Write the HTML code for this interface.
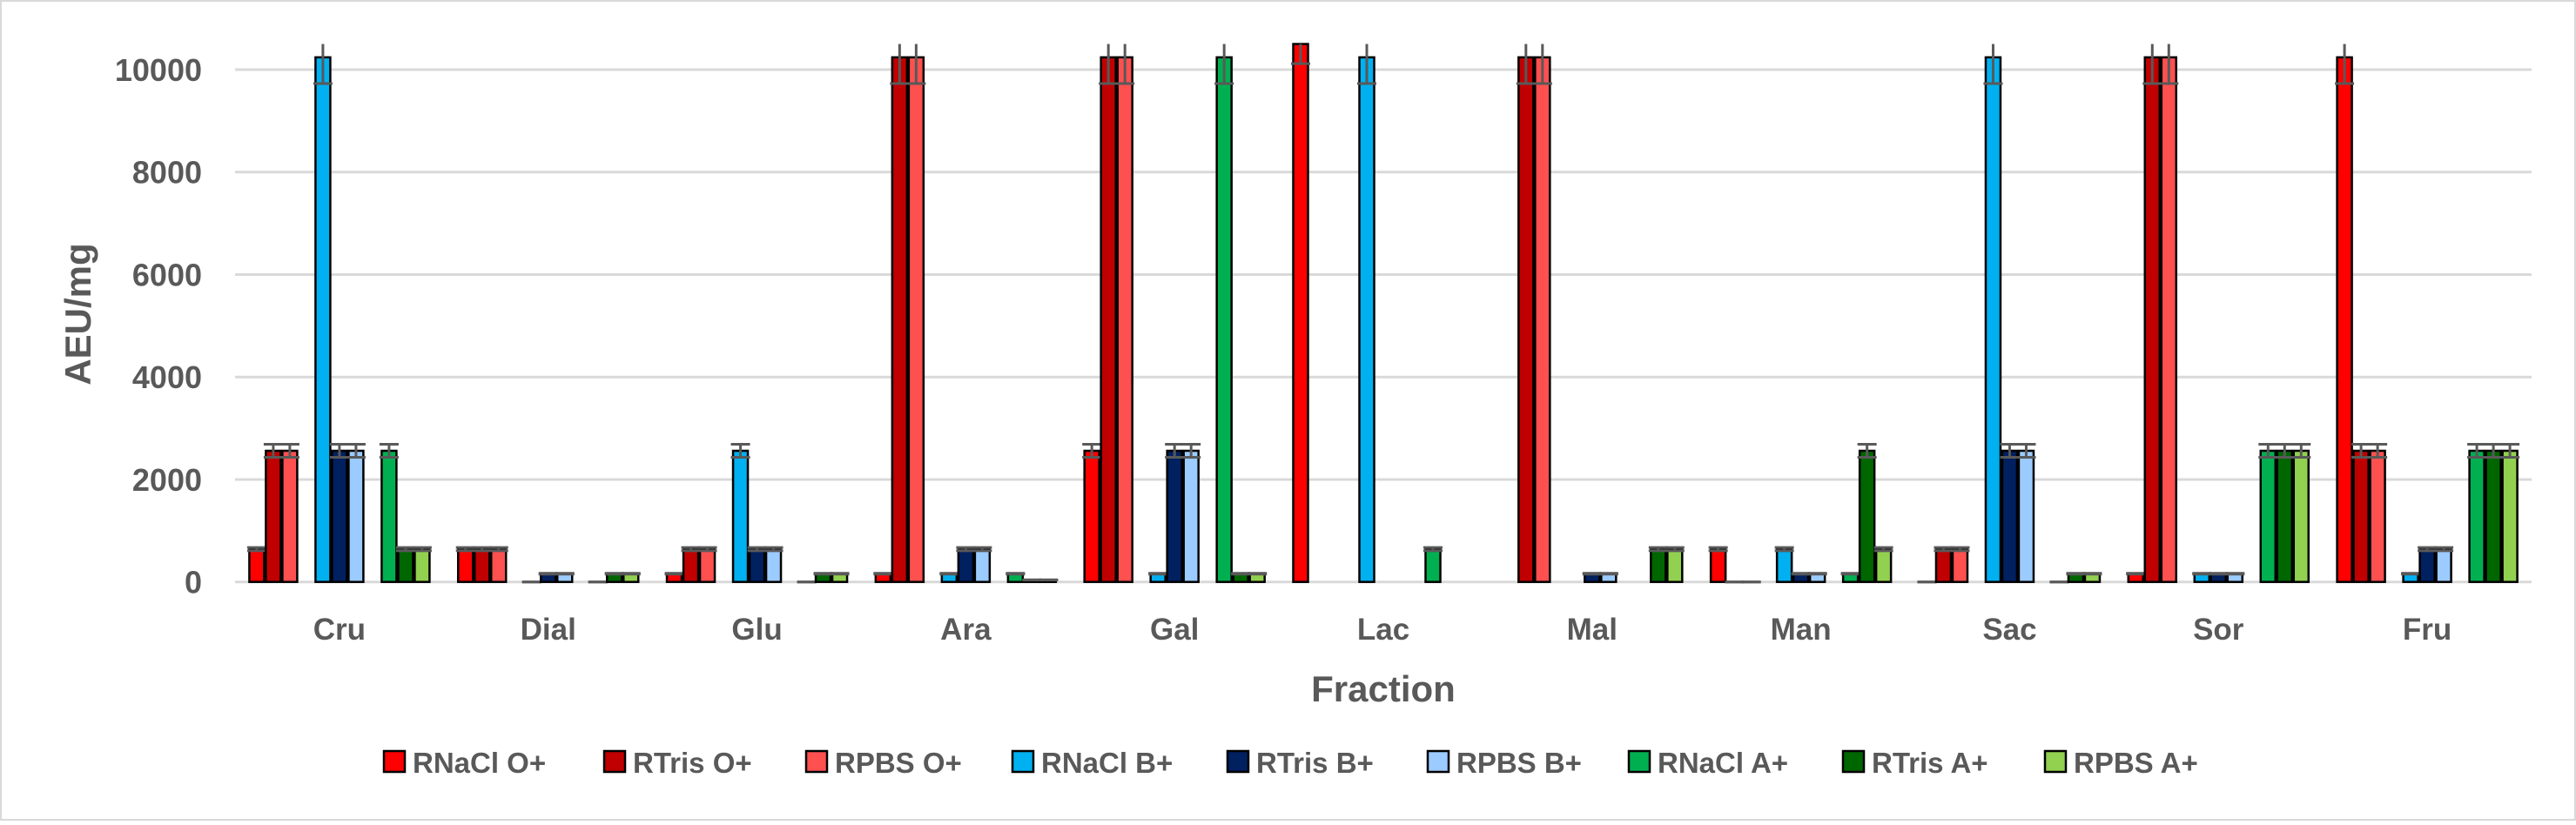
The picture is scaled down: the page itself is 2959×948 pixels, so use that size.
<!DOCTYPE html>
<html><head><meta charset="utf-8"><style>
html,body{margin:0;padding:0;background:#fff;}
svg text{font-family:"Liberation Sans",sans-serif;font-weight:bold;fill:#595959;}
</style></head><body>
<svg id="chart" width="2959" height="943" viewBox="0 0 2959 943" xmlns="http://www.w3.org/2000/svg">
<rect x="1" y="1" width="2957" height="941" fill="#fff" stroke="#d9d9d9" stroke-width="2"/>
<g id="grid"></g>
<g id="yticks"></g>
<g id="bars"></g>
<g id="xlabels"></g>
<text x="0" y="0" font-size="42" text-anchor="middle" transform="translate(104,361) rotate(-90)">AEU/mg</text>
<text x="1589" y="806" font-size="42" text-anchor="middle">Fraction</text>
<g id="legend"></g>
</svg>
<script>
const categories = ["Cru","Dial","Glu","Ara","Gal","Lac","Mal","Man","Sac","Sor","Fru"];
const seriesNames = ["RNaCl O+","RTris O+","RPBS O+","RNaCl B+","RTris B+","RPBS B+","RNaCl A+","RTris A+","RPBS A+"];
const seriesColors = ["#FF0000","#C00000","#FF5050","#00B0F0","#002060","#9CCBFF","#00B050","#006600","#92D050"];
const sRNaClO = [640,640,160,160,2560,10650,null,640,0,160,10240];
const sRTrisO = [2560,640,640,10240,10240,null,10240,0,640,10240,2560];
const sRPBSO  = [2560,640,640,10240,10240,null,10240,0,640,10240,2560];
const sRNaClB = [10240,0,2560,160,160,10240,null,640,10240,160,160];
const sRTrisB = [2560,160,640,640,2560,null,160,160,2560,160,640];
const sRPBSB  = [2560,160,640,640,2560,null,160,160,2560,160,640];
const sRNaClA = [2560,0,0,160,10240,640,null,160,0,2560,2560];
const sRTrisA = [640,160,160,40,160,null,640,2560,160,2560,2560];
const sRPBSA  = [640,160,160,40,160,null,640,640,160,2560,2560];
const yTicks = [0,2000,4000,6000,8000,10000];
const yMax = 10500;
const errFrac = 0.05;

const series=[sRNaClO,sRTrisO,sRPBSO,sRNaClB,sRTrisB,sRPBSB,sRNaClA,sRTrisA,sRPBSA];
const slots=[0,1,2,4,5,6,8,9,10];
const NS="http://www.w3.org/2000/svg";
const X0=270,X1=2908,Y0=668.7,PX=0.05887;
const catW=(X1-X0)/categories.length, slotW=19, pad=(catW-11*slotW)/2;
const yPos=v=>Y0-Math.min(v,yMax)*PX;
const xPos=(c,s)=>X0+c*catW+pad+slots[s]*slotW;
function mk(tag,attrs,parent){const e=document.createElementNS(NS,tag);for(const k in attrs)e.setAttribute(k,attrs[k]);parent.appendChild(e);return e;}
const grid=document.getElementById('grid'),yt=document.getElementById('yticks');
yTicks.forEach(t=>{
  const l=mk('line',{x1:X0,x2:X1,y1:yPos(t),y2:yPos(t),stroke:'#d9d9d9','stroke-width':3},grid);
  
  
  const tx=mk('text',{x:232,y:yPos(t)+13,'font-size':36,'text-anchor':'end'},yt);
  tx.textContent=t;
  
  
});
const bars=document.getElementById('bars');
const plotTop=yPos(yMax);
series.forEach((arr,s)=>{
  arr.forEach((v,c)=>{
    if(v===null)return;
    const x=xPos(c,s);
    if(v>0){
      const r=mk('rect',{x:x+1,y:yPos(v),width:slotW-2,height:Y0-yPos(v),fill:seriesColors[s],stroke:'#000','stroke-width':2.5},bars);
      
      
    }
    const cx=x+slotW/2, e=v*errFrac;
    const yHi=Math.max(yPos(v+e),plotTop), yLo=yPos(v-e);
    const g=mk('g',{stroke:'#595959','stroke-width':3},bars);
    
    
    mk('line',{x1:cx,x2:cx,y1:yHi,y2:yLo},g);
    if(v+e<=yMax) mk('line',{x1:cx-11,x2:cx+11,y1:yPos(v+e),y2:yPos(v+e)},g);
    mk('line',{x1:cx-11,x2:cx+11,y1:yLo,y2:yLo},g);
  });
});
const xl=document.getElementById('xlabels');
categories.forEach((c,i)=>{
  const t=mk('text',{x:X0+(i+0.5)*catW,y:735,'font-size':35,'text-anchor':'middle'},xl);
  t.textContent=c;
  
  
});
const legX=[441,694,926,1163,1410,1640,1871,2117,2349];
const lg=document.getElementById('legend');
seriesNames.forEach((n,i)=>{
  const g=mk('g',{},lg);
  
  
  mk('rect',{x:legX[i],y:863,width:24,height:24,fill:seriesColors[i],stroke:'#000','stroke-width':2.5},g);
  const t=mk('text',{x:legX[i]+33,y:888,'font-size':33},g);
  t.textContent=n;
});
</script>
</body></html>
